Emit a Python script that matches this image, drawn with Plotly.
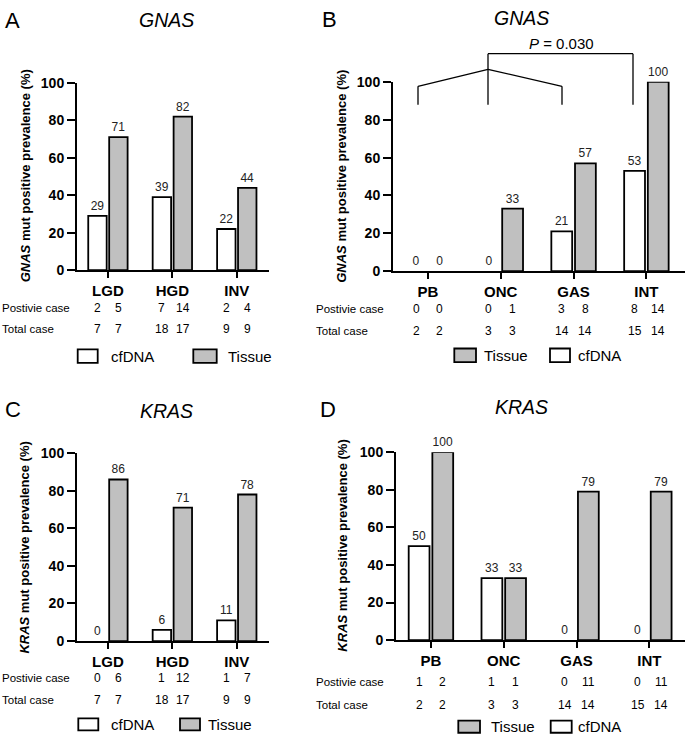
import plotly.graph_objects as go

W, H = 685, 742
FONT = "Liberation Sans, Arial, sans-serif"

# ---------------- data ----------------
cat_stage = ["LGD", "HGD", "INV"]
cat_type = ["PB", "ONC", "GAS", "INT"]

gnas_stage_cf = [29, 39, 22]
gnas_stage_tis = [71, 82, 44]
gnas_stage_pos_cf = [2, 7, 2]
gnas_stage_pos_tis = [5, 14, 4]
gnas_stage_tot_cf = [7, 18, 9]
gnas_stage_tot_tis = [7, 17, 9]

gnas_type_cf = [0, 0, 21, 53]
gnas_type_tis = [0, 33, 57, 100]
gnas_type_pos_cf = [0, 0, 3, 8]
gnas_type_pos_tis = [0, 1, 8, 14]
gnas_type_tot_cf = [2, 3, 14, 15]
gnas_type_tot_tis = [2, 3, 14, 14]

kras_stage_cf = [0, 6, 11]
kras_stage_tis = [86, 71, 78]
kras_stage_pos_cf = [0, 1, 1]
kras_stage_pos_tis = [6, 12, 7]
kras_stage_tot_cf = [7, 18, 9]
kras_stage_tot_tis = [7, 17, 9]

kras_type_cf = [50, 33, 0, 0]
kras_type_tis = [100, 33, 79, 79]
kras_type_pos_cf = [1, 1, 0, 0]
kras_type_pos_tis = [2, 1, 11, 11]
kras_type_tot_cf = [2, 3, 14, 15]
kras_type_tot_tis = [2, 3, 14, 14]

GRAY = "#c0c0c0"
BARGAP, BARGROUPGAP = 0.35, 0.12
OFF = (1 - BARGAP) / 4


def px(x):
    return x / W


def py(y):
    return 1 - y / H


panels = [
    dict(cats=cat_stage, cf=gnas_stage_cf, tis=gnas_stage_tis, pcf=gnas_stage_pos_cf, ptis=gnas_stage_pos_tis,
         tcf=gnas_stage_tot_cf, ttis=gnas_stage_tot_tis, xd=(77, 269), yd=(76.5, 268), xr=(-0.48, 2.50),
         gene="GNAS", rows=(307, 328), rlx=0, ytx=25, yty=172, title=(166, 12.5), letter=("A", 12.5, 12.5)),
    dict(cats=cat_type, cf=gnas_type_cf, tis=gnas_type_tis, pcf=gnas_type_pos_cf, ptis=gnas_type_pos_tis,
         tcf=gnas_type_tot_cf, ttis=gnas_type_tot_tis, xd=(393, 685), yd=(75.5, 269), xr=(-0.48, 3.53),
         gene="GNAS", rows=(308, 330), rlx=314, ytx=342, yty=172.5, title=(521, 10), letter=("B", 329, 12)),
    dict(cats=cat_stage, cf=kras_stage_cf, tis=kras_stage_tis, pcf=kras_stage_pos_cf, ptis=kras_stage_pos_tis,
         tcf=kras_stage_tot_cf, ttis=kras_stage_tot_tis, xd=(77, 269), yd=(455, 647), xr=(-0.48, 2.50),
         gene="KRAS", rows=(685, 707), rlx=0, ytx=25, yty=551.5, title=(166, 411.5), letter=("C", 13, 410)),
    dict(cats=cat_type, cf=kras_type_cf, tis=kras_type_tis, pcf=kras_type_pos_cf, ptis=kras_type_pos_tis,
         tcf=kras_type_tot_cf, ttis=kras_type_tot_tis, xd=(396, 685), yd=(454, 646), xr=(-0.48, 3.49),
         gene="KRAS", rows=(689, 712), rlx=314, ytx=342.5, yty=550, title=(521, 408), letter=("D", 328, 410)),
]

fig = go.Figure()
annotations = []
shapes = []

for k, p in enumerate(panels):
    n = k + 1
    xa = "x" if n == 1 else f"x{n}"
    ya = "y" if n == 1 else f"y{n}"
    idx = list(range(len(p["cats"])))
    for vals, col in ((p["cf"], "white"), (p["tis"], GRAY)):
        fig.add_trace(go.Bar(
            x=idx, y=vals, xaxis=xa, yaxis=ya, showlegend=False,
            marker=dict(color=col, line=dict(color="black", width=[0 if v == 0 else 1.8 for v in vals])),
            text=[str(v) for v in vals], textposition="outside", cliponaxis=False,
            textfont=dict(family=FONT, size=12, color="#222"), textangle=0,
            hoverinfo="skip"))
    fig.update_layout(**{
        ("xaxis" if n == 1 else f"xaxis{n}"): dict(
            domain=[px(p["xd"][0]), px(p["xd"][1])], anchor=ya, range=list(p["xr"]),
            tickmode="array", tickvals=idx, ticktext=p["cats"],
            showline=True, linewidth=2, linecolor="black", ticks="outside", ticklen=6,
            tickwidth=2, tickcolor="black", showgrid=False, zeroline=False,
            tickfont=dict(family=FONT, size=15, color="black", weight="bold")),
        ("yaxis" if n == 1 else f"yaxis{n}"): dict(
            domain=[py(p["yd"][1]), py(p["yd"][0])], anchor=xa, range=[0, 100],
            tickmode="linear", tick0=0, dtick=20,
            showline=True, linewidth=2, linecolor="black", ticks="outside", ticklen=8,
            tickwidth=2, tickcolor="black", showgrid=False, zeroline=False,
            tickfont=dict(family=FONT, size=14, color="black", weight="bold")),
    })
    annotations.append(dict(
        x=px(p["ytx"]), y=py(p["yty"]), xref="paper", yref="paper", textangle=-90,
        text=f"<b><i>{p['gene']}</i> mut positive prevalence (%)</b>", showarrow=False,
        font=dict(family=FONT, size=13, color="black"), xanchor="center", yanchor="middle"))
    annotations.append(dict(
        x=px(p["title"][0]), y=py(p["title"][1]), xref="paper", yref="paper",
        text=f"<i>{p['gene']}</i>", showarrow=False, font=dict(family=FONT, size=19.5, color="black"),
        xanchor="center", yanchor="middle"))
    L = p["letter"]
    annotations.append(dict(
        x=px(L[1]), y=py(L[2]), xref="paper", yref="paper", text=L[0], showarrow=False,
        font=dict(family=FONT, size=22, color="black"), xanchor="center", yanchor="middle"))
    for lab, ypos in (("Postivie case", p["rows"][0]), ("Total case", p["rows"][1])):
        annotations.append(dict(
            x=px(p["rlx"]), y=py(ypos), xref="paper", yref="paper", text=lab, showarrow=False,
            font=dict(family=FONT, size=11.5, color="black"), xanchor="left", yanchor="middle"))
    for i in idx:
        for arr, ypos in ((p["pcf"], p["rows"][0]), (p["tcf"], p["rows"][1])):
            annotations.append(dict(
                x=i - OFF, y=py(ypos), xref=xa, yref="paper", text=str(arr[i]), showarrow=False,
                font=dict(family=FONT, size=12, color="black"), xanchor="center", yanchor="middle"))
        for arr, ypos in ((p["ptis"], p["rows"][0]), (p["ttis"], p["rows"][1])):
            annotations.append(dict(
                x=i + OFF, y=py(ypos), xref=xa, yref="paper", text=str(arr[i]), showarrow=False,
                font=dict(family=FONT, size=12, color="black"), xanchor="center", yanchor="middle"))

# ---------------- legends (boxes + text) ----------------
legend_items = [
    (77.7, 97.7, 349, 362.7, "white", "cfDNA", 109, 356),
    (193.3, 216.7, 349, 362.7, GRAY, "Tissue", 225.5, 356),
    (454.3, 476, 348, 362, GRAY, "Tissue", 482, 355),
    (550, 570, 348, 362, "white", "cfDNA", 576, 355),
    (78.3, 98.3, 726, 738.3, "white", "cfDNA", 109, 732),
    (180, 200, 726, 738.3, GRAY, "Tissue", 205.5, 732),
    (458.3, 480, 728.3, 740.7, GRAY, "Tissue", 488.5, 734.5),
    (550.7, 571.7, 728.3, 740.7, "white", "cfDNA", 576, 734.5),
]
for x0, x1, y0, y1, fill, lab, tx, ty in legend_items:
    shapes.append(dict(type="rect", xref="paper", yref="paper", x0=px(x0), x1=px(x1),
                       y0=py(y1), y1=py(y0), fillcolor=fill, line=dict(color="black", width=1.8)))
    annotations.append(dict(x=px(tx), y=py(ty), xref="paper", yref="paper", text=lab, showarrow=False,
                            font=dict(family=FONT, size=15, color="black"), xanchor="left", yanchor="middle"))

# ---------------- significance bracket (panel B) ----------------
segs = [
    ((488, 46.7), (633, 46.7)),
    ((488, 46.7), (488, 99)),
    ((633, 46.7), (633, 99)),
    ((488, 62.7), (418, 80)),
    ((488, 62.7), (562, 80)),
    ((418, 80), (418, 99)),
    ((562, 80), (562, 99)),
]
for (a, b) in segs:
    shapes.append(dict(type="line", xref="paper", yref="paper", x0=px(a[0]), y0=py(a[1]),
                       x1=px(b[0]), y1=py(b[1]), line=dict(color="black", width=1.3)))
annotations.append(dict(x=px(561), y=py(36.5), xref="paper", yref="paper", text="<i>P</i> = 0.030",
                        showarrow=False, font=dict(family=FONT, size=15, color="black"),
                        xanchor="center", yanchor="middle"))

fig.update_layout(
    width=W, height=H, margin=dict(l=0, r=0, t=0, b=0),
    paper_bgcolor="white", plot_bgcolor="white",
    barmode="group", bargap=BARGAP, bargroupgap=BARGROUPGAP,
    font=dict(family=FONT, color="black"),
    annotations=annotations, shapes=shapes,
)

fig.write_html("out.html", config={"displayModeBar": False},
               post_script="document.body.style.margin='0px';document.body.style.overflow='hidden';")
